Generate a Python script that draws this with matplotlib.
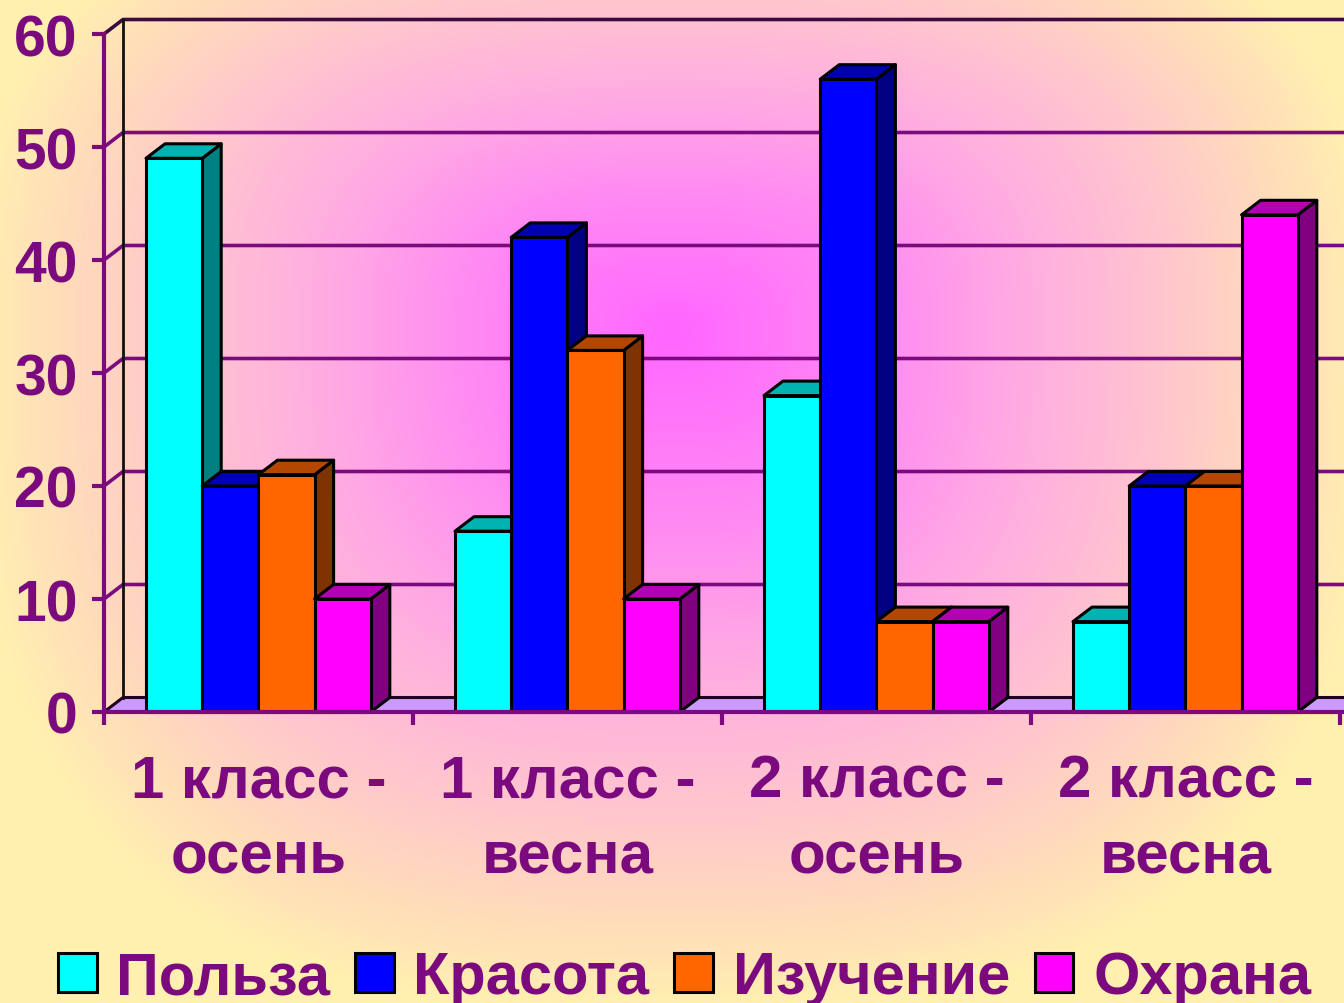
import numpy as np
import matplotlib
matplotlib.use("Agg")
import matplotlib.pyplot as plt
from matplotlib.patches import Polygon, Patch
from matplotlib.colors import LinearSegmentedColormap

plt.rcParams['font.family'] = ['Liberation Sans', 'DejaVu Sans']

categories = ["1 класс -\nосень", "1 класс -\nвесна", "2 класс -\nосень", "2 класс -\nвесна"]
polza = [49, 16, 28, 8]
krasota = [20, 42, 56, 20]
izuchenie = [21, 32, 8, 20]
ohrana = [10, 10, 8, 44]
series_names = ["Польза", "Красота", "Изучение", "Охрана"]
front_colors = ["#00FFFF", "#0000FF", "#FF6600", "#FF00FF"]
side_colors = ["#008080", "#000080", "#7F3300", "#800080"]
top_colors = ["#00B3B3", "#0000B3", "#B34700", "#B300B3"]
y_ticks = [0, 10, 20, 30, 40, 50, 60]

W, H = 1344, 1004
PURPLE = "#7A0A7E"
fig = plt.figure(figsize=(W / 100, H / 100), dpi=100)

# background gradient
bg = fig.add_axes([0, 0, 1, 1], zorder=0)
yy, xx = np.mgrid[0:H, 0:W]
ry = np.where(yy < 330, 470.0, 680.0)
p = 2.8
t = np.clip((np.abs((xx - 672) / 700.0) ** p + np.abs((yy - 330) / ry) ** p) ** (1 / p), 0, 1)
cmap = LinearSegmentedColormap.from_list("bg", [(0, "#FF66FF"), (0.3, "#FF8CF2"), (0.5, "#FFACE2"),
                                                (0.72, "#FFC8CC"), (0.87, "#FFDCBA"), (1, "#FFF0B0")])
bg.imshow(t, cmap=cmap, vmin=0, vmax=1, aspect="auto", interpolation="bilinear")
bg.axis("off")

# plot axes
x0, x1, y_zero, y_top = 104, 1344, 713, 35
ax = fig.add_axes([x0 / W, 1 - y_zero / H, (x1 - x0) / W, (y_zero - y_top) / H], zorder=1)
ax.patch.set_alpha(0)
px_x = 309.0
ax.set_xlim(0, (x1 - x0) / px_x)
ax.set_ylim(0, 60)
px_y = (y_zero - y_top) / 60
dx = 19 / px_x
dy = 14.5 / px_y

xmax = ax.get_xlim()[1]
# floor
ax.add_patch(Polygon([(0, 0), (dx, dy), (xmax + 0.01, dy), (xmax + 0.01, 0)], closed=True,
                     facecolor="#CC99FF", edgecolor="none", zorder=1, clip_on=False))
ax.plot([0, dx, xmax], [0, dy, dy], color="#20001f", lw=2.2, zorder=1.5, clip_on=False)
# gridlines on back wall
for v in y_ticks[1:]:
    col = "#3A0A40" if v == 60 else PURPLE
    ax.plot([0, dx, xmax], [v, v + dy, v + dy], color=col, lw=2.6, zorder=1.2, clip_on=False)
ax.plot([dx, dx], [dy, 60 + dy], color="#101010", lw=2.0, zorder=1.4, clip_on=False)

# bars
w = 56.2 / px_x
off = 42 / px_x
all_series = [polza, krasota, izuchenie, ohrana]
z = 2
for i in range(len(categories)):
    for k, vals in enumerate(all_series):
        left = i + off + k * w
        right = left + w
        h = vals[i]
        edge = dict(edgecolor="black", linewidth=2.2, joinstyle="round", clip_on=False)
        ax.add_patch(Polygon([(right, 0), (right + dx, dy), (right + dx, h + dy), (right, h)], closed=True,
                             facecolor=side_colors[k], zorder=z, **edge))
        ax.add_patch(Polygon([(left, h), (left + dx, h + dy), (right + dx, h + dy), (right, h)], closed=True,
                             facecolor=top_colors[k], zorder=z, **edge))
        ax.add_patch(Polygon([(left, 0), (left, h), (right, h), (right, 0)], closed=True,
                             facecolor=front_colors[k], zorder=z + 0.1, **edge))
        z += 0.2

# axes styling
for s in ("top", "right"):
    ax.spines[s].set_visible(False)
for s in ("left", "bottom"):
    ax.spines[s].set_color(PURPLE)
    ax.spines[s].set_linewidth(3)
    ax.spines[s].set_zorder(20)
ax.set_yticks(y_ticks)
ax.set_yticklabels([str(v) for v in y_ticks], fontsize=41, fontweight="bold", color=PURPLE)
ax.tick_params(axis="y", length=9, width=3, color=PURPLE, pad=10)
ax.set_xticks([0, 1, 2, 3, 4])
ax.set_xticklabels([])
ax.tick_params(axis="x", which="major", length=9, width=3, color=PURPLE)
ax.set_xticks(np.arange(len(categories)) + 0.5, minor=True)
ax.set_xticklabels(categories, minor=True, fontsize=43.2, fontweight="bold", color=PURPLE,
                   linespacing=1.49)
ax.tick_params(axis="x", which="minor", length=0, pad=30)

# legend
handles = [Patch(facecolor=c, edgecolor="black", linewidth=2.2) for c in front_colors]
fig.legend(handles, series_names, loc="center", bbox_to_anchor=(684.5 / W, 1 - 979 / H), ncol=4, frameon=False,
           prop={"size": 42.8, "weight": "bold"}, labelcolor=PURPLE, handlelength=0.65, handleheight=0.65,
           handletextpad=0.33, columnspacing=0.42, borderpad=0, borderaxespad=0)

fig.savefig("out.png", dpi=100)
